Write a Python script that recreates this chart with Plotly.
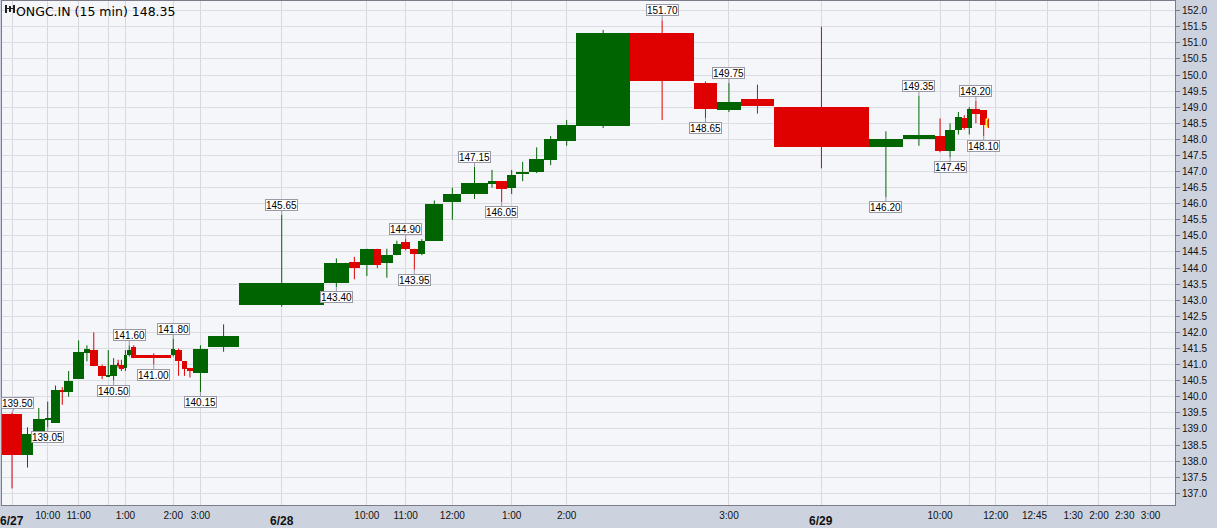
import plotly.graph_objects as go
import numpy as np

# ---------------- data ----------------
session = ["9:15", "9:30", "9:45", "10:00", "10:15", "10:30", "10:45", "11:00",
           "11:15", "11:30", "11:45", "12:00", "12:15", "12:30", "12:45", "1:00",
           "1:15", "1:30", "1:45", "2:00", "2:15", "2:30", "2:45", "3:00", "3:15"]
days = ["6/27", "6/28", "6/29"]

opens = [139.45, 138.20, 138.85, 139.30, 139.20, 140.20, 140.15, 140.55, 141.35, 141.45,
         140.95, 140.65, 140.65, 141.05, 141.00, 140.90, 141.30, 141.55, 141.30, 141.30,
         141.45, 141.10, 140.90, 140.75, 141.55,
         142.85, 143.55, 144.20, 144.10, 144.60, 144.15, 144.40, 144.80, 144.60, 144.45,
         144.85, 146.05, 146.30, 146.60, 146.70, 146.50, 146.95, 147.00, 147.35, 147.95,
         148.40, 151.30, 149.75, 148.90, 149.25,
         149.00, 147.75, 148.00, 148.10, 147.65, 148.30, 148.65, 148.35, 148.95, 148.90,
         148.60]
highs = [139.50, 139.05, 139.65, 139.85, 140.35, 140.30, 140.80, 141.75, 141.60, 142.00,
         141.00, 141.45, 141.20, 141.15, 141.15, 141.45, 141.60, 141.60, 141.35, 141.80,
         141.50, 141.10, 140.90, 141.60, 142.25,
         145.65, 144.30, 144.35, 144.60, 144.60, 144.60, 144.85, 144.90, 144.60, 144.90,
         146.10, 146.50, 147.15, 147.05, 146.70, 147.05, 147.30, 147.75, 148.10, 148.60,
         151.40, 151.70, 149.80, 149.75, 149.70,
         151.50, 148.25, 149.35, 148.65, 148.50, 148.85, 148.75, 149.00, 149.20, 148.90,
         148.65]
lows = [137.15, 137.80, 138.85, 139.05, 139.20, 139.75, 140.00, 140.55, 141.10, 140.95,
        140.55, 140.65, 140.50, 140.90, 140.80, 140.80, 141.25, 141.20, 141.00, 141.25,
        140.65, 140.65, 140.60, 140.15, 141.40,
        142.80, 143.40, 143.65, 143.75, 144.00, 143.70, 144.40, 144.55, 143.95, 144.40,
        144.85, 145.50, 146.15, 146.50, 146.05, 146.30, 146.70, 146.95, 147.20, 147.80,
        148.35, 148.60, 148.65, 148.85, 148.80,
        147.10, 146.20, 147.80, 147.60, 147.45, 148.15, 148.30, 148.15, 148.50, 148.10,
        148.35]
closes = [138.20, 138.85, 139.30, 139.35, 140.20, 140.15, 140.50, 141.40, 141.50, 140.95,
          140.65, 140.65, 141.00, 140.95, 140.85, 141.30, 141.45, 141.20, 141.20, 141.50,
          141.10, 140.85, 140.80, 141.50, 141.90,
          143.55, 144.15, 144.00, 144.60, 144.10, 144.40, 144.75, 144.60, 144.45, 144.85,
          146.00, 146.30, 146.65, 146.70, 146.45, 146.90, 147.00, 147.40, 148.00, 148.45,
          151.30, 149.80, 148.95, 149.15, 149.05,
          147.75, 148.00, 148.15, 147.65, 148.30, 148.70, 148.35, 148.95, 148.80, 148.45,
          148.35]
# volume per bar (thousand shares) -> bar width in an equivolume chart
volumes = [200, 110, 116, 62, 95, 40, 87, 113, 53, 84, 83, 40, 67, 23, 43, 37, 40, 50, 350,
           40, 67, 50, 60, 150, 313,
           850, 243, 117, 133, 77, 113, 87, 90, 83, 67, 183, 177, 267, 83, 110, 90, 130, 150,
           130, 190, 540, 640, 227, 243, 327,
           953, 337, 323, 100, 100, 67, 50, 50, 83, 73, 20]
# default width of the still-empty 15 min slots of the last session (12:00 .. 3:15)
future_volumes = [129, 129, 129, 129, 129, 129, 129, 129, 129, 129, 129, 129, 129, 129]

# time-labelled slots on the axis
label_slots = [3, 7, 15, 19, 23, 28, 32, 36, 40, 44, 48, 53, 61, 64, 67, 69, 71, 73]
# session-start slots (date labels)
date_slots = [0, 25, 50]
# slots that carry a vertical grid line (session start and whole hours)
grid_slots = [0, 3, 7, 11, 15, 19, 23, 25, 28, 32, 36, 40, 44, 48, 50, 53, 57, 61, 65, 69, 73]
# bars whose high / low get a value flag
high_flags = [0, 16, 19, 25, 32, 37, 46, 48, 52, 58]
low_flags = [3, 12, 18, 23, 26, 33, 39, 47, 51, 54, 59]

title_text = "ONGC.IN (15 min) 148.35"

# ---------------- build ----------------
GREEN = "#006400"
RED = "#df0000"

o = np.array(opens); h = np.array(highs); l = np.array(lows); c = np.array(closes)
n = len(o)
all_vol = np.array(volumes + future_volumes, dtype=float)
edges = np.concatenate([[0.0], np.cumsum(all_vol)])
centers = (edges[:-1] + edges[1:]) / 2.0

slot_time = session * 3
slot_day = [d for d in days for _ in session]

up = c >= o
body_h = np.maximum(np.abs(c - o), 0.05)
mid = (o + c) / 2.0
base = mid - body_h / 2.0
colors = [GREEN if u else RED for u in up]
line_w = [0] * n
line_w[-1] = 1.5
line_c = [col for col in colors]
line_c[-1] = "#ffff40"

fig = go.Figure()


def wick_trace(mask, color):
    xs, ys = [], []
    for i in range(n):
        if mask[i]:
            xs += [centers[i], centers[i], None]
            ys += [l[i], h[i], None]
    return go.Scatter(x=xs, y=ys, mode="lines", line=dict(color=color, width=1),
                      hoverinfo="skip", showlegend=False)


fig.add_trace(wick_trace(up, GREEN))
fig.add_trace(wick_trace(~up, RED))
fig.add_trace(go.Bar(x=centers[:n], y=body_h, base=base, width=all_vol[:n],
                     marker=dict(color=colors, line=dict(color=line_c, width=line_w)),
                     showlegend=False, hoverinfo="skip"))

tickvals = [centers[i] for i in label_slots]
ticktext = [slot_time[i] for i in label_slots]
gridvals = [centers[i] for i in grid_slots]

# date labels under the time labels
for i in date_slots:
    fig.add_annotation(x=centers[i], xref="x", y=0, yref="paper", yanchor="middle",
                       yshift=-16, text="<b>%s</b>" % slot_day[i], showarrow=False,
                       font=dict(family="Liberation Sans Narrow, Liberation Sans, Arial",
                                 size=12, color="#111111"))

FLAG_FONT = dict(family="Liberation Sans, Arial", size=10, color="#000000")
for i in high_flags:
    shift = 5 if i == 0 else 0  # keep the first flag inside the picture
    fig.add_annotation(x=centers[i], y=h[i], text="%.2f" % h[i], showarrow=True,
                       ax=shift, ay=-10, arrowhead=0, arrowwidth=1, arrowcolor="#9a9aa6",
                       bgcolor="#ffffff", bordercolor="#9a9aa6", borderwidth=1, borderpad=0,
                       height=10, width=31, font=FLAG_FONT)
for i in low_flags:
    fig.add_annotation(x=centers[i], y=l[i], text="%.2f" % l[i], showarrow=True,
                       ax=0, ay=10, arrowhead=0, arrowwidth=1, arrowcolor="#9a9aa6",
                       bgcolor="#ffffff", bordercolor="#9a9aa6", borderwidth=1, borderpad=0,
                       height=10, width=31, font=FLAG_FONT)

fig.add_annotation(xref="paper", yref="paper", x=0, y=1, xanchor="left", yanchor="top",
                   xshift=12, yshift=-1, text=title_text, showarrow=False,
                   font=dict(family="DejaVu Sans, Verdana", size=12.5, color="#000000"))

# small candlestick icon before the title
icon = [(3, 5, -4, -12), (7, 9, -5, -11), (11, 13, -4, -12), (5, 11, -7, -8)]
for x0, x1, y0, y1 in icon:
    fig.add_shape(type="rect", xref="paper", yref="paper", xsizemode="pixel",
                  ysizemode="pixel", xanchor=0, yanchor=1, x0=x0, x1=x1, y0=y0, y1=y1,
                  fillcolor="#202020", line=dict(width=0))

x_end = edges[-1] + 51
fig.update_layout(
    width=1217, height=528,
    margin=dict(l=2, r=42, t=1, b=23),
    paper_bgcolor="#cdd3de",
    plot_bgcolor="#f5f6fa",
    bargap=0,
    showlegend=False,
    xaxis=dict(range=[0, x_end], tickmode="array", tickvals=tickvals, ticktext=ticktext,
               tickangle=0, showgrid=False, zeroline=False, ticks="", automargin=False,
               ticklabelstandoff=1,
               showline=True, mirror=True, linecolor="#7c7c88", linewidth=1,
               tickfont=dict(family="Liberation Sans, Arial", size=10, color="#111111"),
               minor=dict(tickmode="array", tickvals=gridvals, showgrid=True,
                          gridcolor="#d8d9df", gridwidth=1, ticks="")),
    yaxis=dict(range=[136.636, 152.30], side="right", dtick=0.5, tick0=137,
               tickformat=".1f", showgrid=True, gridcolor="#dcdde3", gridwidth=1,
               zeroline=False, ticks="outside", ticklen=4, tickcolor="#7c7c88",
               automargin=False,
               showline=True, mirror=True, linecolor="#7c7c88", linewidth=1,
               tickfont=dict(family="Liberation Sans, Arial", size=10, color="#111111")),
)

fig.write_html("out.html", config={"displayModeBar": False},
               post_script="document.body.style.margin='0px';document.body.style.overflow='hidden';")
